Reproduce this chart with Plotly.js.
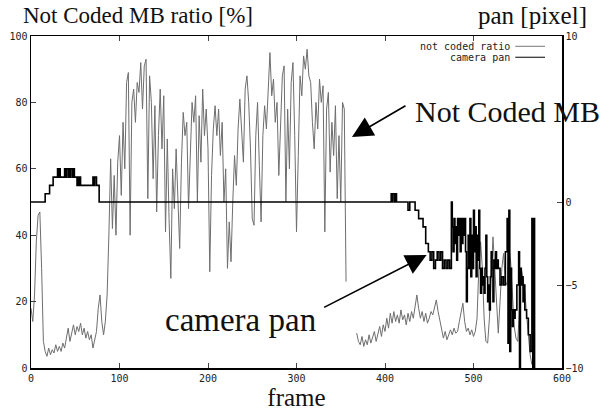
<!DOCTYPE html>
<html>
<head>
<meta charset="utf-8">
<script src="https://cdn.plot.ly/plotly-3.0.1.min.js"></script>
<style>html,body{margin:0;padding:0;background:#fff;}#chart{width:609px;height:414px;}</style>
</head>
<body>
<div id="chart"></div>
<script>
// Not coded MB ratio [%], sampled every 2 frames (segment 1: frames 0..356)
var ratioStart1 = 0;
var ratioSeg1 = [18,14,22,38,46,47,30,8,
  5,3.5,6,4,5.5,4.5,7,5,6.5,5,7.5,6,
  9,12,8,10.5,13,10,12.5,11,13.5,10,12,9,11,8.5,10,
  6,9,11,18,22,14,10,14,22,40,
  63,42,58,40,62,70,52,74,60,86,89,40,80,84,74,86,83,92,78,91,93,
  51,88,80,57,79,47,70,84,66,82,41,69,45,27,60,48,66,52,36,62,
  77,70,74,48,66,80,74,82,50,76,62,84,70,78,66,29,58,72,79,70,
  78,64,74,50,60,30,44,32,50,64,55,72,81,70,62,84,88,80,66,45,
  43,70,80,61,44,70,79,72,86,95,82,87,74,80,58,76,88,91,50,78,
  60,86,92,70,41,64,88,82,94,90,96,88,86,74,66,80,72,87,80,85,
  41,78,83,59,74,64,79,51,70,50,80,78,26];
// segment 2: frames 368..566
var ratioStart2 = 368;
var ratioSeg2 = [10.5,8,7,9.5,6.5,8.5,7,10,7.5,9,11,8,10.5,12.5,9.5,13,
  11,15,12,16.5,13.5,17,14,16,13.5,17.5,14.5,16,13,16.5,14,17,15,19,22,18,
  15,17,14,16.5,13.5,15,17,16,18.5,20.5,17,14,12,9,11,8.5,10,11.5,10,12,
  10.5,11,14,17,19.5,14,11,12,10,11.5,9.5,11,15,30,38,30,15,8,7.5,15,
  30,39.5,30,18,10.5,20,30,34.5,26,25,36,32,20,12.5,9,8,18,30,27,23,16,8.5,4,1];

// camera pan [pixel] : change frames and values (drawn as steps)
var panFrames = [0,16,21,25,30,31,32,33,34,38,39,40,42,43,44,45,47,48,49,52,53,54,55,56,
  70,71,72,74,77,
  407,408,409,411,412,413,
  426,428,434,438,443,446,449,451,453,455,457,459,461,463,465,467,469,471,473,
  475,476,477,478,479,480,481,482,483,484,485,486,487,488,489,490,491,492,493,494,495,496,497,498,499,
  500,501,502,503,504,505,506,507,508,509,510,511,512,513,514,515,516,517,518,519,
  520,521,522,523,524,525,526,527,528,530,532,534,536,538,539,540,541,542,543,544,545,546,547,
  549,551,552,553,554,555,556,557,558,560,562,564,566,567,568,569];
var panValues = [0,0.5,1,1.5,2,1.5,2,1.5,1.5,2,1.5,2,1.5,2,1.5,2,1.5,2,1.5,1,1.5,1,1.5,1,
  1.5,1,1.5,1,0,
  0.5,0,0.5,0,0.5,0,
  -0.5,0,-0.5,-1,-1.5,-2.5,-3,-3.5,-3,-4,-3.5,-3,-3.5,-3,-4,-3.5,-4,-3.5,-4,
  0,-1.5,-3,-1,-2.5,-1.5,-3.5,-1,-2,-1,-3,-1,-2.5,-1,-2,-1,-3,-6,-4,-2,-4,-1,-4.5,-2,-4,
  -0.5,-3,-1.5,-4.5,-2,-3.5,-0.5,-4,-5.5,-4,-5,-4.5,-5.5,-4,-2,-4.5,-6,-5,-6.5,-4.5,
  -3,-4,-6,-3.5,-4,-3,-4,-3.5,-4,-5,-4.5,-5,-3,-1,-8.5,-0.5,-9,-4,-6.5,-7.5,-6.5,-7,-6.5,
  -5,-3,-10,-4,-5,-4.5,-6,-5,-6.5,-7,-8,-9,-1,-10,-1,-10];

var ratioX = [], ratioY = [];
ratioSeg1.forEach(function(v,i){ ratioX.push(ratioStart1 + 2*i); ratioY.push(v); });
ratioX.push(ratioStart1 + 2*ratioSeg1.length); ratioY.push(null);
ratioSeg2.forEach(function(v,i){ ratioX.push(ratioStart2 + 2*i); ratioY.push(v); });

var serif = 'Liberation Serif, Times New Roman, serif';
var tickFont = {family:'DejaVu Sans Mono, monospace', size:10, color:'#222'};
var legFont = {family:'DejaVu Sans Mono, monospace', size:10, color:'#222'};

var traces = [
  {x: ratioX, y: ratioY, type:'scatter', mode:'lines', name:'not coded ratio',
   line:{color:'#6e6e6e', width:1}, connectgaps:false, xaxis:'x', yaxis:'y', hoverinfo:'skip'},
  {x: panFrames, y: panValues, type:'scatter', mode:'lines', name:'camera pan',
   line:{color:'#000', width:1.6, shape:'hv'}, xaxis:'x', yaxis:'y2', hoverinfo:'skip'}
];

var layout = {
  width:609, height:414,
  margin:{l:31, r:47, t:36, b:46},
  paper_bgcolor:'#fff', plot_bgcolor:'#fff',
  showlegend:false,
  xaxis:{range:[0,600], tickvals:[0,100,200,300,400,500,600], ticks:'inside', ticklen:5,
    showline:true, linecolor:'#000', linewidth:1.5, mirror:'ticks', showgrid:false, zeroline:false,
    tickfont:tickFont, title:{text:'frame', font:{family:serif, size:25, color:'#111'}, standoff:3}},
  yaxis:{range:[0,100], tickvals:[0,20,40,60,80,100], ticks:'inside', ticklen:5,
    showline:true, linecolor:'#000', linewidth:1.5, showgrid:false, zeroline:false, tickfont:tickFont},
  yaxis2:{range:[-10,10], tickvals:[-10,-5,0,10], ticktext:['\u221210','\u22125','0','10'], overlaying:'y', side:'right', ticks:'inside', ticklen:5,
    showline:true, linecolor:'#000', linewidth:1.5, showgrid:false, zeroline:false, tickfont:tickFont},
  shapes:[
    {type:'line', xref:'paper', yref:'paper', x0:0.912, x1:0.968, y0:0.969, y1:0.969, line:{color:'#777', width:1}},
    {type:'line', xref:'paper', yref:'paper', x0:0.912, x1:0.968, y0:0.936, y1:0.936, line:{color:'#000', width:1}}
  ],
  annotations:[
    {xref:'paper', yref:'paper', x:-0.018, y:1.063, xanchor:'left', yanchor:'middle', showarrow:false,
     text:'Not Coded MB ratio [%]', font:{family:serif, size:23, color:'#111'}},
    {xref:'paper', yref:'paper', x:1.05, y:1.063, xanchor:'right', yanchor:'middle', showarrow:false,
     text:'pan [pixel]', font:{family:serif, size:25, color:'#111'}},
    {xref:'paper', yref:'paper', x:0.905, y:0.969, xanchor:'right', yanchor:'middle', showarrow:false,
     text:'not coded ratio', font:legFont},
    {xref:'paper', yref:'paper', x:0.905, y:0.936, xanchor:'right', yanchor:'middle', showarrow:false,
     text:'camera pan', font:legFont},
    {xref:'paper', yref:'paper', x:0.72, y:0.774, xanchor:'left', yanchor:'middle', showarrow:false,
     text:'Not Coded MB', font:{family:serif, size:30, color:'#111'}},
    {xref:'paper', yref:'paper', x:0.248, y:0.145, xanchor:'left', yanchor:'middle', showarrow:false,
     text:'camera pan', font:{family:serif, size:33, color:'#111'}},
    {xref:'x', yref:'y', x:362.7, y:69.6, ax:55, ay:-32, text:'', showarrow:true,
     arrowhead:2, arrowsize:2.6, arrowwidth:1.6, arrowcolor:'#000'},
    {xref:'x', yref:'y', x:447, y:34, ax:-104, ay:53, text:'', showarrow:true,
     arrowhead:2, arrowsize:2.6, arrowwidth:1.6, arrowcolor:'#000'}
  ]
};

Plotly.newPlot('chart', traces, layout, {staticPlot:true, displayModeBar:false});
</script>
</body>
</html>
